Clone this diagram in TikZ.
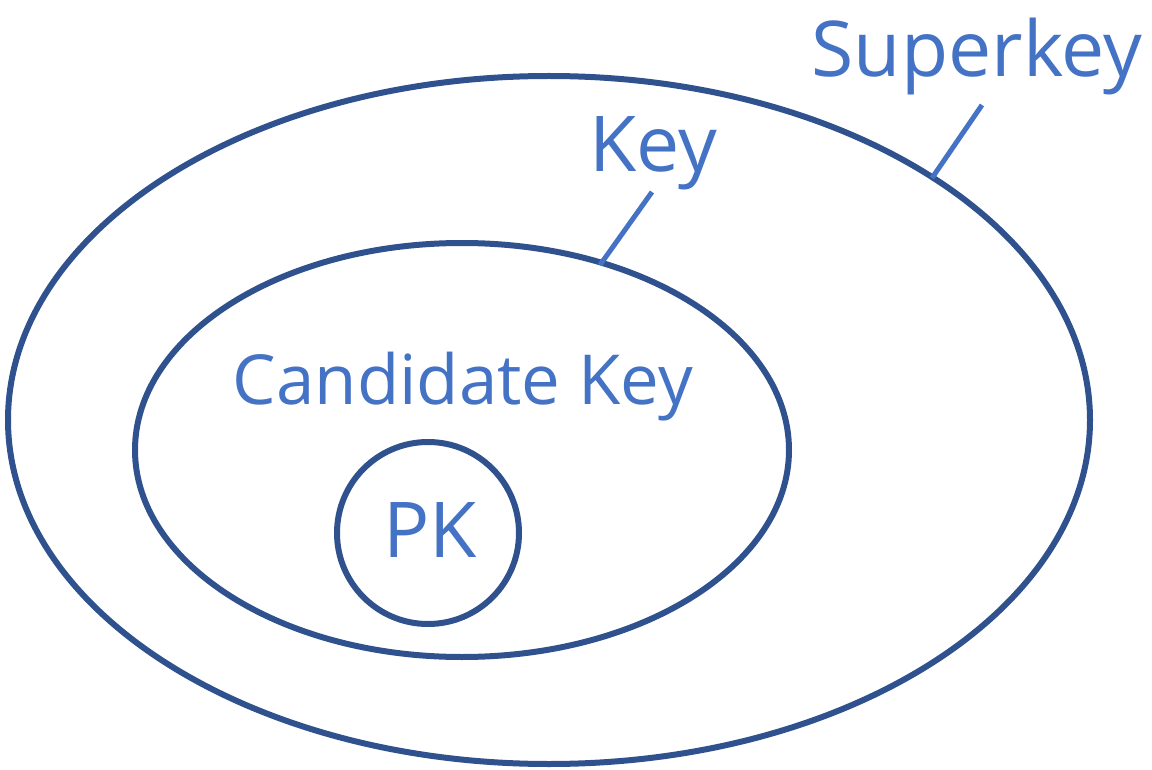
\documentclass[tikz,border=0pt]{standalone}
\usepackage{fontspec}
\setmainfont{Open Sans}
\definecolor{ringblue}{HTML}{2F528F}
\definecolor{textblue}{HTML}{4472C4}
\begin{document}
\begin{tikzpicture}[x=1pt,y=-1pt,
  ring/.style={draw=ringblue,line width=6pt},
  lbl/.style={text=textblue,inner sep=0pt,anchor=base},
  big/.style={font=\fontsize{77}{90}\selectfont},
  mid/.style={font=\fontsize{69}{82}\selectfont},
  leader/.style={draw=textblue,line width=5pt}]
\useasboundingbox (0,0) rectangle (1152,770);
\draw[ring] (549,420) ellipse [x radius=541, y radius=344];
\draw[ring] (462,450) ellipse [x radius=327, y radius=207];
\draw[ring] (428,533) circle [radius=91];
\node[lbl,big] (super) at (977,77) {Superkey};
\node[lbl,big] (key) at (653,172) {Key};
\node[lbl,mid] (cand) at (463,404) {Candidate Key};
\node[lbl,big] (pk) at (430,557) {PK};
\coordinate (s1) at (982,105);
\coordinate (s2) at (932,178);
\coordinate (k1) at (652,192);
\coordinate (k2) at (600,265);
\draw[leader] (s1) -- (s2);
\draw[leader] (k1) -- (k2);
\end{tikzpicture}
\end{document}
